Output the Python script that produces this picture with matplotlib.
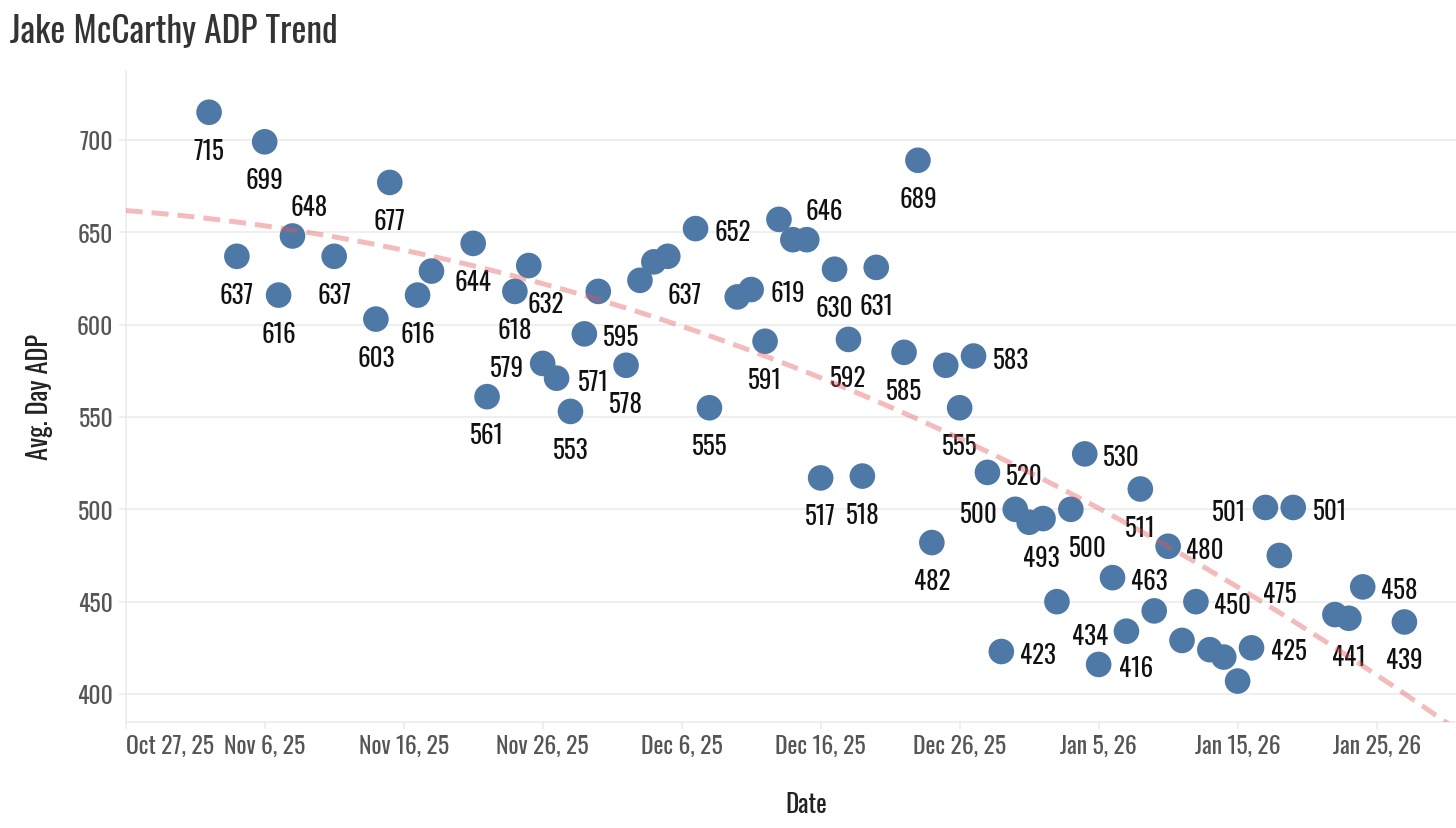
import datetime as dt
import numpy as np
import matplotlib
matplotlib.use("Agg")
import matplotlib.pyplot as plt
from matplotlib import font_manager as fm

# ---------------- data ----------------
dates = ["2025-11-02", "2025-11-04", "2025-11-06", "2025-11-07", "2025-11-08", "2025-11-11",
         "2025-11-14", "2025-11-15", "2025-11-17", "2025-11-18", "2025-11-21", "2025-11-22",
         "2025-11-24", "2025-11-25", "2025-11-26", "2025-11-27", "2025-11-28", "2025-11-29",
         "2025-11-30", "2025-12-02", "2025-12-03", "2025-12-04", "2025-12-05", "2025-12-07",
         "2025-12-08", "2025-12-10", "2025-12-11", "2025-12-12", "2025-12-13", "2025-12-14",
         "2025-12-15", "2025-12-16", "2025-12-17", "2025-12-18", "2025-12-19", "2025-12-20",
         "2025-12-22", "2025-12-23", "2025-12-24", "2025-12-25", "2025-12-26", "2025-12-27",
         "2025-12-28", "2025-12-29", "2025-12-30", "2025-12-31", "2026-01-01", "2026-01-02",
         "2026-01-03", "2026-01-04", "2026-01-05", "2026-01-06", "2026-01-07", "2026-01-08",
         "2026-01-09", "2026-01-10", "2026-01-11", "2026-01-12", "2026-01-13", "2026-01-14",
         "2026-01-15", "2026-01-16", "2026-01-17", "2026-01-18", "2026-01-19", "2026-01-22",
         "2026-01-23", "2026-01-24", "2026-01-27"]
adp = [715, 637, 699, 616, 648, 637, 603, 677, 616, 629, 644, 561,
       618, 632, 579, 571, 553, 595, 618, 578, 624, 634, 637, 652,
       555, 615, 619, 591, 657, 646, 646, 517, 630, 592, 518, 631,
       585, 689, 482, 578, 555, 583, 520, 423, 500, 493, 495, 450,
       500, 530, 416, 463, 434, 511, 445, 480, 429, 450, 424, 420,
       407, 425, 501, 475, 501, 443, 441, 458, 439]
# label placement: b=below, r=right, l=left, br=below-right, ar=above-right, ''=no label
label_pos = ["b", "b", "b", "b", "ar", "b", "b", "b", "b", "", "b", "b",
             "b", "br", "l", "r", "b", "r", "", "b", "", "", "br", "r",
             "b", "", "r", "b", "", "", "ar", "b", "b", "b", "b", "b",
             "b", "b", "b", "", "b", "r", "r", "r", "l", "br2", "", "",
             "br", "r", "r", "r", "l", "b", "", "r", "", "r", "", "",
             "", "r", "l", "b", "r", "", "b", "r", "b"]
y_ticks = [400, 450, 500, 550, 600, 650, 700]
title = "Jake McCarthy ADP Trend"
x_label = "Date"
y_label = "Avg. Day ADP"


# ---------------- font: prefer a condensed sans ----------------
def pick_font():
    entries = fm.fontManager.ttflist
    names = {f.name for f in entries}
    for n in ["Oswald", "Roboto Condensed", "Liberation Sans Narrow", "Open Sans Condensed",
              "Noto Sans Condensed", "Arial Narrow"]:
        if n in names:
            return n, "normal"
    for n in ["Noto Sans", "Open Sans", "Roboto", "DejaVu Sans", "Noto Sans Display", "Inter"]:
        for st in ["condensed", "semi-condensed", "extra-condensed"]:
            for f in entries:
                if f.name == n and str(f.stretch) == st and f.style == "normal":
                    return n, st
    for f in entries:
        if ("Condensed" in f.name or "Narrow" in f.name) and f.style == "normal":
            return f.name, "normal"
    return "Roboto", "normal"


fam, stretch = pick_font()
plt.rcParams["font.family"] = [fam, "DejaVu Sans"]
plt.rcParams["font.stretch"] = stretch

# ---------------- style ----------------
POINT_COLOR = "#4E79A7"
TREND_COLOR = "#E15759"
GRID = "#EBEBEB"
OFFS = {"b": (0, -36), "r": (37, -1), "l": (-36, -2), "br": (17, -36),
        "br2": (12, -33), "ar": (17, 31)}

W, H = 1456, 829
fig = plt.figure(figsize=(W / 100, H / 100), dpi=100)
ax_left, ax_right, ax_top, ax_bot = 125.7, 1486, 71.7, 722.7
ax = fig.add_axes([ax_left / W, 1 - ax_bot / H, (ax_right - ax_left) / W, (ax_bot - ax_top) / H])

x = [dt.datetime.strptime(d, "%Y-%m-%d") for d in dates]
start = dt.datetime(2025, 10, 27)
end = start + dt.timedelta(days=97.87)

ax.scatter(x, adp, s=340, color=POINT_COLOR, edgecolors="none", zorder=3)

for xi, yi, pos in zip(x, adp, label_pos):
    if not pos:
        continue
    ox, oy = OFFS[pos]
    ax.annotate(str(yi), (xi, yi), xytext=(ox, oy), textcoords="offset pixels",
                ha="center", va="center_baseline", fontsize=18, color="#111111", zorder=4)

# quadratic trend fitted to the data
days = np.array([(d - start).days for d in x], dtype=float)
coef = np.polyfit(days, np.array(adp, dtype=float), 2)
tt = np.linspace(0, 97.87, 400)
tx = [start + dt.timedelta(days=float(t)) for t in tt]
line, = ax.plot(tx, np.polyval(coef, tt), color=TREND_COLOR, alpha=0.4, lw=3.6, zorder=5)
line.set_dashes([3.4, 1.8])
line.set_dash_capstyle("butt")

ax.set_xlim(start, end)
ax.set_ylim(385, 737.5)

xt = [start + dt.timedelta(days=10 * i) for i in range(10)]
ax.set_xticks(xt)
ax.set_xticklabels([f"{d:%b} {d.day}, {d:%y}" for d in xt])
ax.get_xticklabels()[0].set_horizontalalignment("left")
ax.set_yticks(y_ticks)
ax.set_yticklabels([str(v) for v in y_ticks])

ax.grid(axis="y", color=GRID, lw=1.1, zorder=0)
ax.grid(axis="x", visible=False)
ax.set_axisbelow(True)
for s in ("top", "right"):
    ax.spines[s].set_visible(False)
for s in ("left", "bottom"):
    ax.spines[s].set_color(GRID)
    ax.spines[s].set_linewidth(1.1)
ax.tick_params(axis="both", colors=GRID, length=5, width=1.1, labelsize=17,
               labelcolor="#555555", pad=4)

ax.set_xlabel(x_label, fontsize=18, color="#222222", labelpad=24)
ax.set_ylabel(y_label, fontsize=19, color="#222222", labelpad=17)

fig.text(10 / W, 1 - 31 / H, title, fontsize=25.5, color="#333333", ha="left", va="center")

fig.savefig("out.png", dpi=100)
